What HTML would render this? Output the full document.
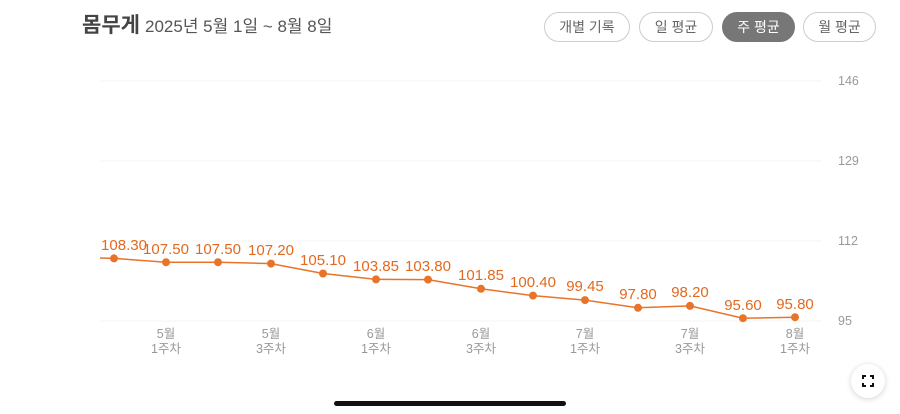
<!DOCTYPE html>
<html><head><meta charset="utf-8"><style>
body{margin:0;width:900px;height:414px;background:#fff;overflow:hidden;font-family:"Liberation Sans","Noto Sans CJK KR",sans-serif;position:relative}
.t{position:absolute;left:82px;top:9px;font-size:21px;font-weight:bold;color:#444}
.d{position:absolute;left:145px;top:12px;font-size:17px;color:#555}
.b{position:absolute;top:12px;height:30px;border:1px solid #ccc;border-radius:16px;box-sizing:border-box;font-size:14px;color:#666;text-align:center;line-height:28px}
.fx{position:absolute;left:851px;top:364px;width:34px;height:34px;border-radius:50%;background:#fff;box-shadow:0 1px 6px rgba(0,0,0,.18)}
.home{position:absolute;left:334px;top:401px;width:232px;height:5px;border-radius:3px;background:#111}
</style></head><body>
<div class="t">몸무게</div>
<div class="d">2025년 5월 1일 ~ 8월 8일</div>
<div class="b" style="left:544px;width:86px">개별 기록</div>
<div class="b" style="left:639px;width:74px">일 평균</div>
<div class="b" style="left:722px;width:73px;background:#777;border-color:#777;color:#fff">주 평균</div>
<div class="b" style="left:803px;width:73px">월 평균</div>
<svg width="900" height="414" style="position:absolute;left:0;top:0" font-family="Liberation Sans, Noto Sans CJK KR, sans-serif">
<g stroke="#f5f5f5" stroke-width="1">
<line x1="100" y1="81" x2="822" y2="81"/><line x1="100" y1="161" x2="822" y2="161"/><line x1="100" y1="241" x2="822" y2="241"/><line x1="100" y1="321" x2="822" y2="321"/></g>
<g fill="#999" font-size="12.5"><text x="838" y="85">146</text><text x="838" y="165">129</text><text x="838" y="245">112</text><text x="838" y="325">95</text></g>
<polyline fill="none" stroke="#e8742a" stroke-width="1.5" points="100,258 114,258.4 166,262.2 218,262.2 271,263.6 323,273.5 376,279.4 428,279.6 481,288.8 533,295.6 585,300.1 638,307.8 690,305.9 743,318.2 795,317.2"/>
<g fill="#e8742a">
<circle cx="114" cy="258.4" r="4"/><circle cx="166" cy="262.2" r="4"/><circle cx="218" cy="262.2" r="4"/><circle cx="271" cy="263.6" r="4"/><circle cx="323" cy="273.5" r="4"/><circle cx="376" cy="279.4" r="4"/><circle cx="428" cy="279.6" r="4"/><circle cx="481" cy="288.8" r="4"/><circle cx="533" cy="295.6" r="4"/><circle cx="585" cy="300.1" r="4"/><circle cx="638" cy="307.8" r="4"/><circle cx="690" cy="305.9" r="4"/><circle cx="743" cy="318.2" r="4"/><circle cx="795" cy="317.2" r="4"/></g>
<g fill="#e2691f" font-size="15" text-anchor="middle">
<text x="124" y="250">108.30</text><text x="166" y="254">107.50</text><text x="218" y="254">107.50</text><text x="271" y="255">107.20</text><text x="323" y="265">105.10</text><text x="376" y="271">103.85</text><text x="428" y="271">103.80</text><text x="481" y="280">101.85</text><text x="533" y="287">100.40</text><text x="585" y="291">99.45</text><text x="638" y="299">97.80</text><text x="690" y="297">98.20</text><text x="743" y="310">95.60</text><text x="795" y="309">95.80</text></g>
<g fill="#999" font-size="12.5" text-anchor="middle">
<text x="166" y="338">5월</text><text x="166" y="353">1주차</text>
<text x="271" y="338">5월</text><text x="271" y="353">3주차</text>
<text x="376" y="338">6월</text><text x="376" y="353">1주차</text>
<text x="481" y="338">6월</text><text x="481" y="353">3주차</text>
<text x="585" y="338">7월</text><text x="585" y="353">1주차</text>
<text x="690" y="338">7월</text><text x="690" y="353">3주차</text>
<text x="795" y="338">8월</text><text x="795" y="353">1주차</text></g>
</svg>
<div class="fx"><svg width="34" height="34"><g stroke="#111" stroke-width="2" fill="none"><path d="M12 15v-3h3M19 12h3v3M22 19v3h-3M15 22h-3v-3"/></g></svg></div>
<div class="home"></div>
</body></html>
